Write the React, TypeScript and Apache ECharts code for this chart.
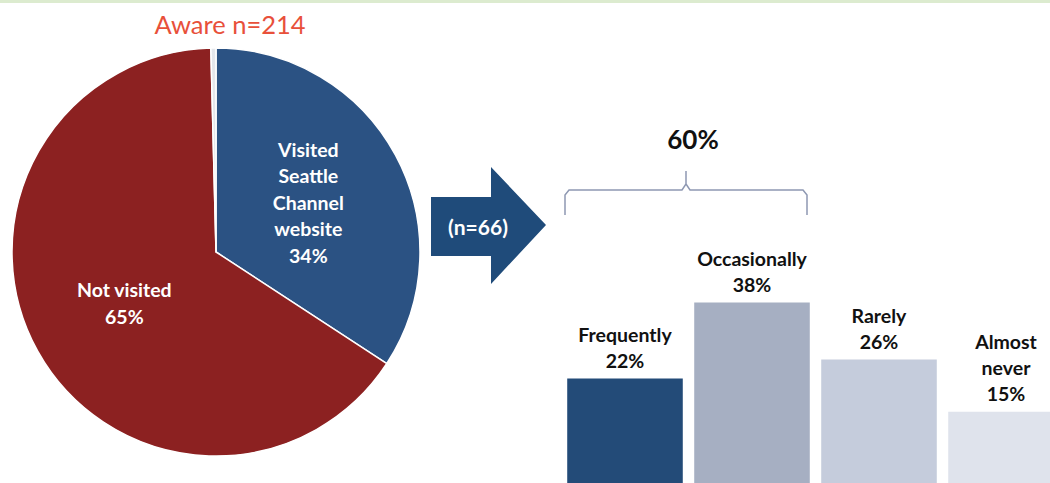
import React, { useEffect, useRef } from "react";
import * as echarts from "echarts";

const pieNames = ["Visited\nSeattle\nChannel\nwebsite", "Not visited", "Other"];
const pieValues = [34, 65, 0.4];
const pieColors = ["#2b5283", "#8c2121", "#e4e6ea"];

const barCategories = ["Frequently", "Occasionally", "Rarely", "Almost\nnever"];
const barValues = [22, 38, 26, 15];
const barColors = ["#234b78", "#a6afc2", "#c5ccdc", "#dfe3ec"];

const FONT = "Lato, 'Noto Sans', sans-serif";

export default function App() {
  const ref = useRef<HTMLDivElement>(null);
  useEffect(() => {
    if (!ref.current) return;
    const chart = echarts.init(ref.current, undefined, { renderer: "svg" });
    chart.setOption({
      animation: false,
      backgroundColor: "#ffffff",
      title: {
        text: "Aware n=214",
        left: 225,
        top: 6,
        textAlign: "center",
        textStyle: { color: "#e8503a", fontSize: 25.5, fontWeight: "normal", fontFamily: FONT },
      },
      grid: { left: 561.5, width: 508, top: 103, height: 380 },
      xAxis: {
        type: "category",
        data: barCategories,
        show: false,
      },
      yAxis: { type: "value", min: 0, max: 80, show: false },
      series: [
        {
          type: "pie",
          center: [216, 252],
          radius: 204,
          startAngle: 90,
          clockwise: true,
          data: pieNames.map((n, i) => ({
            name: n,
            value: pieValues[i],
            itemStyle: { color: pieColors[i] },
            label: { show: i < 2 },
          })),
          itemStyle: { borderColor: "#ffffff", borderWidth: 1.5 },
          label: {
            position: "inside",
            formatter: (p: any) => `${p.name}\n${p.value}%`,
            color: "#ffffff",
            fontSize: 19.5,
            fontWeight: "bold",
            lineHeight: 26.5,
            fontFamily: FONT,
          },
          labelLine: { show: false },
          emphasis: { disabled: true },
        },
        {
          type: "bar",
          barWidth: "91%",
          data: barValues.map((v, i) => ({ value: v, itemStyle: { color: barColors[i] } })),
          label: {
            show: true,
            position: "top",
            distance: 5,
            formatter: (p: any) => `${p.name}\n${p.value}%`,
            color: "#111111",
            fontSize: 19.5,
            fontWeight: "bold",
            lineHeight: 26,
            fontFamily: FONT,
          },
          emphasis: { disabled: true },
        },
      ],
      graphic: [
        {
          type: "rect",
          shape: { x: 0, y: 0, width: 1100, height: 3 },
          style: { fill: "#dcebcf" },
        },
        {
          type: "polygon",
          shape: {
            points: [
              [431, 197],
              [491, 197],
              [491, 167],
              [546, 225],
              [491, 284],
              [491, 256],
              [431, 256],
            ],
          },
          style: { fill: "#1f4b7a" },
        },
        {
          type: "text",
          x: 478,
          y: 226,
          style: {
            text: "(n=66)",
            fill: "#ffffff",
            fontSize: 21,
            fontWeight: "bold",
            fontFamily: FONT,
            align: "center",
            verticalAlign: "middle",
          },
        },
        {
          type: "polyline",
          shape: {
            points: [
              [565, 215],
              [565, 195],
              [569, 190],
              [682, 190],
              [686, 184],
              [686, 171],
              [686, 184],
              [690, 190],
              [803, 190],
              [807, 195],
              [807, 215],
            ],
          },
          style: { stroke: "#8e98b2", lineWidth: 1.5, fill: "none" },
        },
        {
          type: "text",
          x: 693,
          y: 139,
          style: {
            text: "60%",
            fill: "#111111",
            fontSize: 26,
            fontWeight: "bold",
            fontFamily: FONT,
            align: "center",
            verticalAlign: "middle",
          },
        },
      ],
    });
    return () => chart.dispose();
  }, []);
  return (
    <div
      style={{ position: "absolute", left: 0, top: 0, width: 1050, height: 483, overflow: "hidden" }}
    >
      <div ref={ref} style={{ width: 1080, height: 483 }} />
    </div>
  );
}
